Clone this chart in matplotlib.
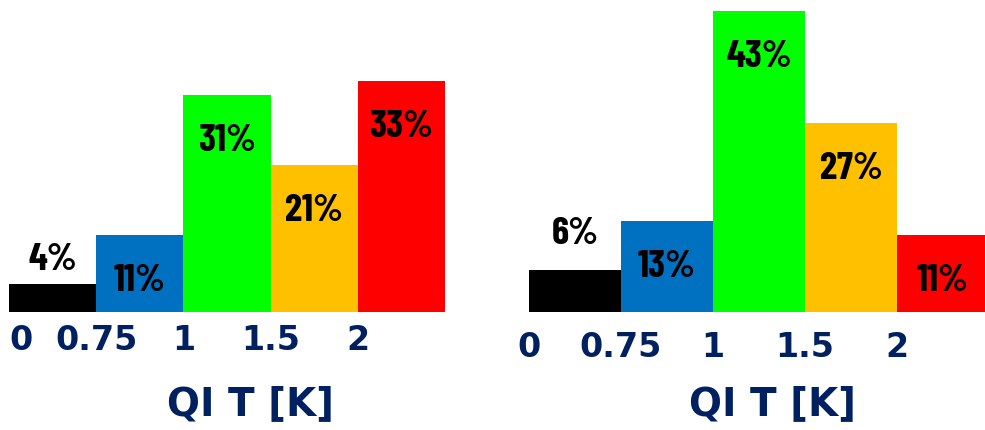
import matplotlib
matplotlib.use("Agg")
import matplotlib.pyplot as plt

# ---- data ----
bins = ["0", "0.75", "1", "1.5", "2"]
colors = ["#000000", "#0070C0", "#00FF00", "#FFC000", "#FF0000"]
left_values = [4, 11, 31, 21, 33]
right_values = [6, 13, 43, 27, 11]
xlabel = "QI T [K]"

value_font = ["Barlow Condensed", "Asap Condensed", "DejaVu Sans"]

W, H = 985, 430
fig = plt.figure(figsize=(W / 100, H / 100), dpi=100)

navy = "#002060"

def panel(rect, values, xmax, first_ha, tick_pad, label_x, above_first):
    ax = fig.add_axes(rect)
    xs = list(range(len(values)))
    ax.bar(xs, values, width=1.0, align="edge", color=colors, linewidth=0)
    ax.set_xlim(0, xmax)
    ax.set_ylim(0, 44)
    ax.set_xticks(xs)
    ax.set_xticklabels(bins, fontsize=24, fontweight="bold", color=navy,
                       family="DejaVu Sans")
    ax.get_xticklabels()[0].set_ha(first_ha)
    ax.tick_params(axis="x", length=0, pad=tick_pad)
    ax.set_yticks([])
    for s in ax.spines.values():
        s.set_visible(False)
    ax.set_xlabel(xlabel, fontsize=28, fontweight="bold", color=navy,
                  family="DejaVu Sans")
    ax.xaxis.set_label_coords(label_x, -0.30)
    ax.xaxis.label.set_va("center")
    for i, v in enumerate(values):
        if i == 0:
            y = v + above_first
        else:
            y = v - 6.6
        ax.text(i + 0.5, y, f"{v}%", ha="center", va="center",
                fontsize=28, fontweight="bold", family=value_font, color="black")
    return ax

# left panel: x 9..445, baseline 312 px, 7 px per %
panel([9 / W, (H - 312) / H, 436 / W, 308 / H], left_values, 5.0,
      "left", 9, 0.553, 3.4)
# right panel: x 529..(989), cropped at 985
panel([529 / W, (H - 312) / H, 456 / W, 308 / H], right_values, 456 / 92.0,
      "center", 14, 0.533, 5.1)

fig.savefig("out.png", dpi=100, facecolor="white")
